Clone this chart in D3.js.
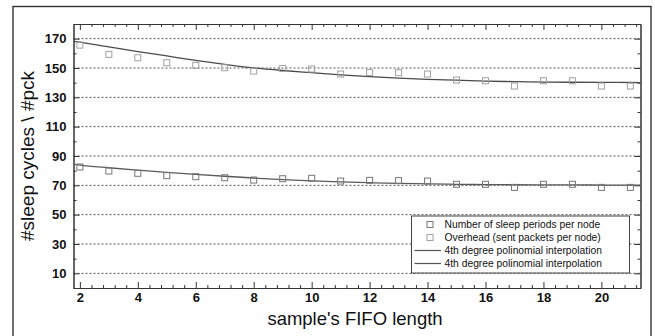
<!DOCTYPE html>
<html>
<head>
<meta charset="utf-8">
<script src="https://cdn.jsdelivr.net/npm/d3@7"></script>
<style>
  body { margin: 0; background: #fff; }
  text { font-family: "Liberation Sans", Arial, sans-serif; fill: #111; }
</style>
</head>
<body>
<div id="chart"></div>
<script>
// fifo length on x
const fifoLen = [2, 3, 4, 5, 6, 7, 8, 9, 10, 11, 12, 13, 14, 15, 16, 17, 18, 19, 20, 21];

// measured points
const sleepPeriods = [82.5, 79.8, 78.2, 76.6, 75.9, 75.2, 73.6, 74.5, 74.8, 72.9, 73.4, 73.2, 72.9, 70.7, 70.7, 68.6, 70.7, 70.7, 68.6, 68.6];
const overhead = [165.6, 159.3, 157, 153.6, 151.8, 150.2, 147.9, 149.7, 149.3, 145.9, 147, 146.8, 145.9, 141.8, 141.3, 137.7, 141.3, 141.3, 137.7, 137.7];

// interpolation curves at each x
const curveX = [1.8, 2, 3, 4, 5, 6, 7, 8, 9, 10, 11, 12, 13, 14, 15, 16, 17, 18, 19, 20, 21, 21.35];
const sleepCurve = [84.3, 83.8, 82, 80.4, 78.9, 77.5, 76.2, 75, 73.9, 73, 72.3, 71.8, 71.3, 71, 70.7, 70.5, 70.4, 70.3, 70.3, 70.2, 70.2, 70.2];
const overheadCurve = [168.2, 167.6, 164.4, 161.2, 158.2, 155.2, 152.5, 150.1, 148.3, 146.8, 145.3, 144.1, 143.1, 142.3, 141.7, 141.1, 140.7, 140.4, 140.3, 140.2, 140.1, 140.0];

const yTicks = [10, 30, 50, 70, 90, 110, 130, 150, 170];
const xTicks = [2, 4, 6, 8, 10, 12, 14, 16, 18, 20];
const legendLabels = ["Number of sleep periods per node", "Overhead (sent packets per node)",
                      "4th degree polinomial interpolation", "4th degree polinomial interpolation"];

const W = 655, H = 336;
const pLeft = 73.5, pRight = 640.5, pTop = 24, pBottom = 288;

const svg = d3.select("#chart").append("svg")
    .attr("width", W).attr("height", H);

// outer frame
svg.append("rect")
    .attr("x", 13).attr("y", 6.5)
    .attr("width", 638).attr("height", 340)
    .attr("fill", "none").attr("stroke", "#333").attr("stroke-width", 1.4);

const x = d3.scaleLinear().domain([1.78, 21.35]).range([pLeft, pRight]);
const y = d3.scaleLinear().domain([0, 180]).range([pBottom, pTop]);

// grid
svg.append("g").selectAll("line")
  .data(yTicks)
  .enter().append("line")
    .attr("x1", pLeft).attr("x2", pRight)
    .attr("y1", d => y(d)).attr("y2", d => y(d))
    .attr("stroke", "#444").attr("stroke-width", 0.9)
    .attr("stroke-dasharray", "2,2");

// axes, ticks inward
const minorX = d3.range(2, 21.3, 0.4).filter(v => Math.abs(v - Math.round(v / 2) * 2) > 0.01);
const minorY = d3.range(0, 181, 20);

function axisGroup(axis, tx, ty) {
  const g = svg.append("g").attr("transform", `translate(${tx},${ty})`).call(axis);
  g.select(".domain").attr("stroke", "#333");
  g.selectAll(".tick line").attr("stroke", "#333");
  return g;
}

// bottom
const gx = axisGroup(d3.axisBottom(x).tickValues(xTicks).tickSize(-6).tickPadding(5).tickSizeOuter(0), 0, pBottom);
gx.selectAll("text").attr("font-size", 13).attr("font-weight", "bold").attr("fill", "#111");
axisGroup(d3.axisBottom(x).tickValues(minorX).tickSize(-3).tickFormat("").tickSizeOuter(0), 0, pBottom);

// top
axisGroup(d3.axisTop(x).tickValues(xTicks).tickSize(-6).tickFormat("").tickSizeOuter(0), 0, pTop);
axisGroup(d3.axisTop(x).tickValues(minorX).tickSize(-3).tickFormat("").tickSizeOuter(0), 0, pTop);

// left
const gy = axisGroup(d3.axisLeft(y).tickValues(yTicks).tickSize(-6).tickPadding(7).tickSizeOuter(0), pLeft, 0);
gy.selectAll("text").attr("font-size", 13).attr("font-weight", "bold").attr("fill", "#111");
axisGroup(d3.axisLeft(y).tickValues(minorY).tickSize(-3).tickFormat("").tickSizeOuter(0), pLeft, 0);

// right
axisGroup(d3.axisRight(y).tickValues(yTicks).tickSize(-6).tickFormat("").tickSizeOuter(0), pRight, 0);
axisGroup(d3.axisRight(y).tickValues(minorY).tickSize(-3).tickFormat("").tickSizeOuter(0), pRight, 0);

// curves
const line = d3.line().x(d => x(d[0])).y(d => y(d[1])).curve(d3.curveMonotoneX);
[[sleepCurve, "#5a5a5a"], [overheadCurve, "#4a4a4a"]].forEach(([vals, col]) => {
  svg.append("path")
    .datum(curveX.map((v, i) => [v, vals[i]]))
    .attr("d", line)
    .attr("fill", "none").attr("stroke", col).attr("stroke-width", 1.3);
});

// markers
const sq = 6;
function squares(vals, col) {
  svg.append("g").selectAll("rect")
    .data(fifoLen.map((v, i) => [v, vals[i]]))
    .enter().append("rect")
      .attr("x", d => x(d[0]) - sq / 2).attr("y", d => y(d[1]) - sq / 2)
      .attr("width", sq).attr("height", sq)
      .attr("fill", "none").attr("stroke", col).attr("stroke-width", 1);
}
squares(sleepPeriods, "#777");
squares(overhead, "#a0a0a0");

// legend
const lg = svg.append("g").attr("transform", "translate(411.5,216)");
lg.append("rect")
    .attr("width", 218).attr("height", 57)
    .attr("fill", "#fff").attr("stroke", "#444").attr("stroke-width", 1);
const rowY = [8.5, 21.5, 34.5, 47.5];
legendLabels.forEach((lab, i) => {
  if (i < 2) {
    lg.append("rect")
      .attr("x", 15.5).attr("y", rowY[i] - 3)
      .attr("width", 6).attr("height", 6)
      .attr("fill", "none").attr("stroke", i === 0 ? "#777" : "#a0a0a0");
  } else {
    lg.append("line")
      .attr("x1", 3).attr("x2", 29.5)
      .attr("y1", rowY[i]).attr("y2", rowY[i])
      .attr("stroke", "#555").attr("stroke-width", 1.2);
  }
  lg.append("text")
    .attr("x", 33).attr("y", rowY[i] + 3.6)
    .attr("font-size", 10.3)
    .text(lab);
});

// axis titles
svg.append("text")
    .attr("x", 355).attr("y", 324.5)
    .attr("text-anchor", "middle")
    .attr("font-size", 18.5)
    .text("sample's FIFO length");

svg.append("text")
    .attr("transform", "translate(34,156) rotate(-90)")
    .attr("text-anchor", "middle")
    .attr("font-size", 19)
    .text("#sleep cycles \\ #pck");
</script>
</body>
</html>
